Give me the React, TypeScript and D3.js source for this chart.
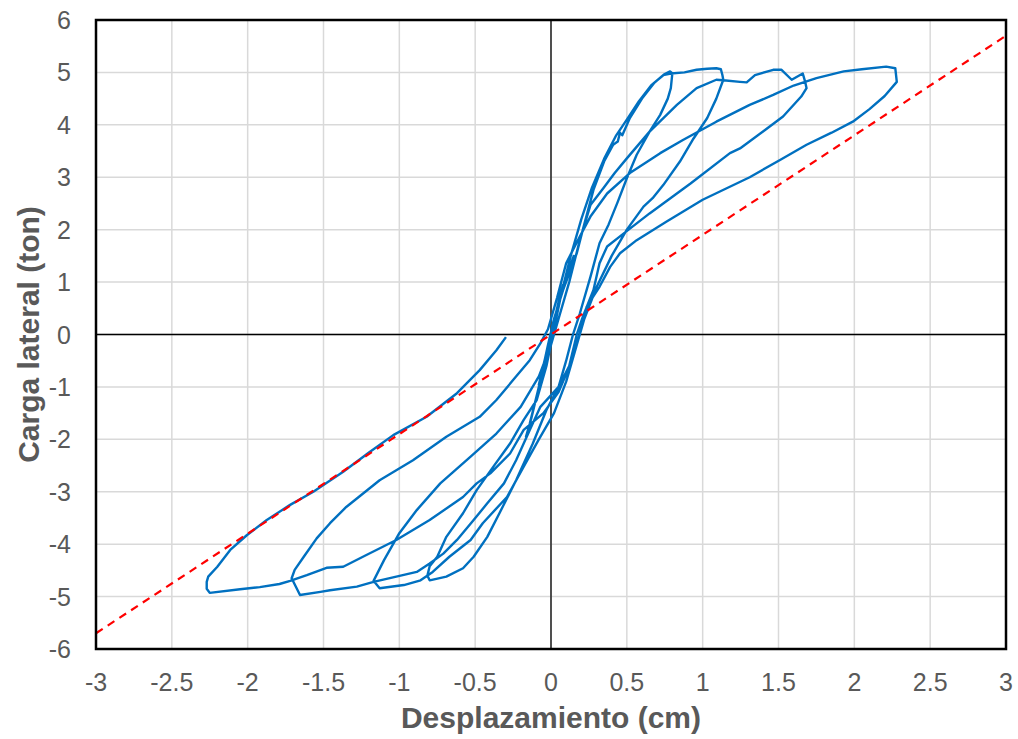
import React from "react";
import * as d3 from "d3";

type P = [number, number];

const xTicks = [-3, -2.5, -2, -1.5, -1, -0.5, 0, 0.5, 1, 1.5, 2, 2.5, 3];
const yTicks = [-6, -5, -4, -3, -2, -1, 0, 1, 2, 3, 4, 5, 6];

const preCycles: P[] = [
  [0, 0], [0.04, 0.5], [0.08, 0.95], [0.06, 0.75], [0.02, 0.25], [-0.03, -0.4], [-0.08, -0.96],
  [-0.06, -0.7], [0.0, 0.0], [0.06, 0.75], [0.12, 1.25], [0.15, 1.5], [0.13, 1.3], [0.07, 0.8],
  [0.0, -0.1], [-0.08, -1.0], [-0.13, -1.6], [-0.165, -1.95], [-0.14, -1.7], [-0.08, -1.0], [-0.02, -0.2],
];
const loop1Up: P[] = [
  [0.02, 0.3], [0.08, 0.85], [0.17, 1.55], [0.21, 2.0], [0.28, 2.76], [0.35, 3.3], [0.41, 3.62],
  [0.44, 3.68], [0.455, 3.85], [0.47, 3.8], [0.52, 4.13], [0.6, 4.5], [0.68, 4.8], [0.75, 4.97],
  [0.785, 5.02], [0.8, 4.98],
];
const loop1Down: P[] = [
  [0.79, 4.7], [0.77, 4.5], [0.72, 4.19], [0.65, 3.87], [0.565, 3.43], [0.5, 2.98], [0.44, 2.53],
  [0.38, 2.1], [0.32, 1.74], [0.26, 1.1], [0.19, 0.4], [0.145, 0.0], [0.1, -0.5], [0.05, -1.0],
  [-0.03, -1.44], [-0.12, -2.08], [-0.23, -2.78], [-0.34, -3.41], [-0.42, -3.86], [-0.51, -4.24],
  [-0.58, -4.46], [-0.69, -4.62], [-0.8, -4.69],
];
const loop1Back: P[] = [
  [-0.815, -4.6], [-0.8, -4.42], [-0.75, -4.24], [-0.69, -3.86], [-0.58, -3.41], [-0.49, -2.97],
  [-0.38, -2.52], [-0.27, -2.08], [-0.18, -1.63], [-0.094, -1.25], [-0.03, -0.6], [0.02, 0.1],
];
const loop2Up: P[] = [
  [0.07, 0.8], [0.13, 1.5], [0.2, 2.2], [0.27, 2.8], [0.35, 3.35], [0.43, 3.8], [0.5, 4.1],
  [0.58, 4.45], [0.66, 4.75], [0.74, 4.95], [0.79, 4.98], [0.88, 5.0], [0.96, 5.05], [1.03, 5.07],
  [1.09, 5.08], [1.12, 5.06], [1.13, 4.95],
];
const loop2Down: P[] = [
  [1.136, 4.86], [1.09, 4.5], [1.03, 4.13], [0.94, 3.74], [0.85, 3.3], [0.74, 2.85], [0.67, 2.6],
  [0.61, 2.44], [0.5, 2.0], [0.4, 1.5], [0.3, 0.9], [0.22, 0.3], [0.17, -0.2], [0.1, -0.9],
  [0.02, -1.5], [-0.08, -2.0], [-0.18, -2.52], [-0.29, -3.1], [-0.45, -3.6], [-0.53, -3.92],
  [-0.67, -4.24], [-0.78, -4.53], [-0.86, -4.69], [-0.97, -4.78], [-1.13, -4.84],
];
const loop2Back: P[] = [
  [-1.17, -4.7], [-1.1, -4.3], [-1.0, -3.79], [-0.885, -3.35], [-0.73, -2.84], [-0.53, -2.33],
  [-0.36, -1.89], [-0.2, -1.38], [-0.08, -0.8], [0.0, -0.2],
];
const loop3Up: P[] = [
  [0.05, 0.3], [0.12, 1.0], [0.19, 1.8], [0.26, 2.47], [0.345, 2.79], [0.42, 3.08], [0.5, 3.36],
  [0.65, 3.87], [0.83, 4.38], [0.96, 4.7], [1.09, 4.86], [1.136, 4.85], [1.246, 4.82], [1.29, 4.81],
  [1.345, 4.95], [1.465, 5.05], [1.52, 5.05], [1.587, 4.86], [1.66, 4.98], [1.675, 4.83], [1.685, 4.7],
];
const loop3Down: P[] = [
  [1.65, 4.54], [1.53, 4.16], [1.42, 3.92], [1.246, 3.55], [1.18, 3.46], [0.92, 2.88], [0.65, 2.31],
  [0.48, 1.93], [0.37, 1.68], [0.32, 1.36], [0.28, 0.85], [0.21, 0.34], [0.17, 0.0], [0.12, -0.6],
  [0.05, -1.0], [-0.07, -1.38], [-0.14, -1.82], [-0.23, -2.4], [-0.31, -2.84], [-0.42, -3.22],
  [-0.51, -3.54], [-0.62, -3.92], [-0.71, -4.18], [-0.8, -4.37], [-0.885, -4.53], [-1.02, -4.62],
  [-1.17, -4.72], [-1.28, -4.81], [-1.457, -4.88], [-1.52, -4.91], [-1.655, -4.97],
];
const loop3Back: P[] = [
  [-1.71, -4.65], [-1.69, -4.49], [-1.63, -4.24], [-1.545, -3.89], [-1.457, -3.6], [-1.35, -3.29],
  [-1.13, -2.78], [-0.91, -2.4], [-0.69, -1.95], [-0.47, -1.57], [-0.36, -1.25], [-0.25, -0.87],
  [-0.14, -0.49], [-0.07, -0.17], [-0.02, 0.1],
];
const loop4Up: P[] = [
  [0.04, 0.7], [0.1, 1.36], [0.19, 1.87], [0.26, 2.25], [0.37, 2.69], [0.52, 3.08], [0.72, 3.46],
  [0.87, 3.71], [1.09, 4.06], [1.31, 4.38], [1.465, 4.57], [1.6, 4.75], [1.75, 4.89], [1.93, 5.02],
  [2.05, 5.06], [2.21, 5.11], [2.27, 5.08], [2.28, 4.82],
];
const loop4Down: P[] = [
  [2.2, 4.55], [2.1, 4.3], [1.99, 4.06], [1.85, 3.85], [1.685, 3.62], [1.51, 3.33], [1.31, 3.0],
  [1.0, 2.57], [0.76, 2.15], [0.565, 1.8], [0.455, 1.55], [0.39, 1.29], [0.32, 0.91], [0.235, 0.53],
  [0.19, 0.02], [0.13, -0.55], [0.05, -1.1], [-0.05, -1.5], [-0.18, -1.82], [-0.27, -2.27],
  [-0.4, -2.65], [-0.49, -2.84], [-0.58, -3.1], [-0.8, -3.54], [-1.02, -3.92], [-1.24, -4.24],
  [-1.37, -4.43], [-1.48, -4.45], [-1.61, -4.59], [-1.72, -4.7], [-1.79, -4.76], [-1.92, -4.82],
  [-2.05, -4.86], [-2.25, -4.93],
];
const finalBranch: P[] = [
  [-2.27, -4.85], [-2.27, -4.72], [-2.26, -4.62], [-2.2, -4.43], [-2.115, -4.11], [-2.006, -3.83],
  [-1.874, -3.54], [-1.72, -3.25], [-1.567, -3.0], [-1.37, -2.62], [-1.2, -2.25], [-1.04, -1.92],
  [-0.82, -1.57], [-0.62, -1.12], [-0.47, -0.68], [-0.36, -0.3], [-0.297, -0.05],
];

const branches: P[][] = [
  preCycles, loop1Up, loop1Down, loop1Back, loop2Up, loop2Down, loop2Back,
  loop3Up, loop3Down, loop3Back, loop4Up, loop4Down, finalBranch,
];

const refLineX = [-3, 3];
const refSlope = 1.9;

const W = 1018;
const H = 739;
const M = { left: 96, right: 1006, top: 20, bottom: 649 };
const FONT = "'Liberation Sans', Arial, sans-serif";
const GRAY = "#595959";

export default function App() {
  const x = d3.scaleLinear().domain([-3, 3]).range([M.left, M.right]);
  const y = d3.scaleLinear().domain([-6, 6]).range([M.bottom, M.top]);
  const hyst: P[] = ([] as P[]).concat(...branches);
  const line = d3.line<P>().x((d) => x(d[0])).y((d) => y(d[1])).curve(d3.curveLinear);
  const refPts: P[] = refLineX.map((v) => [v, refSlope * v] as P);

  return (
    <svg width={W} height={H} style={{ position: "absolute", left: 0, top: 0, background: "#fff" }}>
      <rect x={0} y={0} width={W} height={H} fill="#fff" />
      {xTicks.map((t) => (
        <line key={"gx" + t} x1={x(t)} x2={x(t)} y1={M.top} y2={M.bottom} stroke="#D9D9D9" strokeWidth={1.5} />
      ))}
      {yTicks.map((t) => (
        <line key={"gy" + t} x1={M.left} x2={M.right} y1={y(t)} y2={y(t)} stroke="#D9D9D9" strokeWidth={1.5} />
      ))}
      <line x1={x(0)} x2={x(0)} y1={M.top} y2={M.bottom} stroke="#000" strokeWidth={1.3} />
      <line x1={M.left} x2={M.right} y1={y(0)} y2={y(0)} stroke="#000" strokeWidth={1.3} />
      <path d={line(hyst) || ""} fill="none" stroke="#0070C0" strokeWidth={2.4} strokeLinejoin="round" />
      <path d={line(refPts) || ""} fill="none" stroke="#FF0000" strokeWidth={2.2} strokeDasharray="8 6" />
      <rect x={M.left} y={M.top} width={M.right - M.left} height={M.bottom - M.top} fill="none" stroke="#000" strokeWidth={2.5} />
      {xTicks.map((t) => (
        <text key={"tx" + t} x={x(t)} y={691} textAnchor="middle" fontFamily={FONT} fontSize={25} fill={GRAY}>
          {String(t)}
        </text>
      ))}
      {yTicks.map((t) => (
        <text key={"ty" + t} x={71} y={y(t)} dy="0.36em" textAnchor="end" fontFamily={FONT} fontSize={25} fill={GRAY}>
          {String(t)}
        </text>
      ))}
      <text x={(M.left + M.right) / 2} y={728} textAnchor="middle" fontFamily={FONT} fontSize={30} fontWeight="bold" fill={GRAY}>
        Desplazamiento (cm)
      </text>
      <text
        transform={`translate(39, ${(M.top + M.bottom) / 2}) rotate(-90)`}
        textAnchor="middle"
        fontFamily={FONT}
        fontSize={30}
        fontWeight="bold"
        fill={GRAY}
      >
        Carga lateral (ton)
      </text>
    </svg>
  );
}
